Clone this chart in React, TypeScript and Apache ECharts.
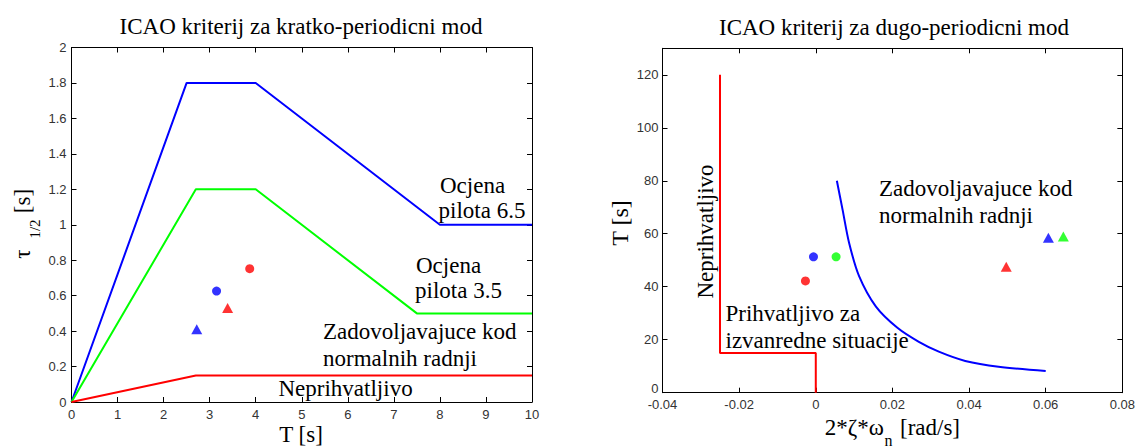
import React, { useEffect, useRef } from 'react';
import * as echarts from 'echarts';

// ---- Short-period criterion (left) ----
const shortBlue = [[0, 0], [2.5, 1.8], [4, 1.8], [8, 1.0], [10, 1.0]];
const shortGreen = [[0, 0], [2.7, 1.2], [4, 1.2], [7.5, 0.5], [10, 0.5]];
const shortRed = [[0, 0], [2.7, 0.15], [10, 0.15]];
const shortCircleRed = [[3.87, 0.752]];
const shortCircleBlue = [[3.15, 0.626]];
const shortTriRed = [[3.39, 0.53]];
const shortTriBlue = [[2.72, 0.41]];

// ---- Long-period (phugoid) criterion (right) ----
const longRed = [[-0.025, 120], [-0.025, 15], [0, 15], [0, 0]];
const longBlue = [
  [0.0055, 80], [0.007, 69], [0.0087, 56.5], [0.0113, 44], [0.0157, 32.5],
  [0.0213, 24.5], [0.0269, 19.2], [0.0321, 15.5], [0.039, 12], [0.0477, 9.8], [0.06, 8.2],
];
const longCircleRed = [[-0.0027, 42.2]];
const longCircleBlue = [[-0.0006, 51.3]];
const longCircleGreen = [[0.0053, 51.3]];
const longTriRed = [[0.0497, 47.5]];
const longTriBlue = [[0.0607, 58.5]];
const longTriGreen = [[0.0646, 59]];

const BLUE = '#0000ff';
const GREEN = '#00ff00';
const RED = '#ff0000';

const SERIF = '"Liberation Serif", "Times New Roman", serif';
const SANS = '"Liberation Sans", Arial, sans-serif';

function axis(gridIndex: number, position: string, min: number, max: number, interval: number, labels: boolean, margin: number, formatter?: any, rich?: any) {
  return {
    type: 'value',
    gridIndex,
    position,
    min,
    max,
    interval,
    axisLine: { show: true, onZero: false, lineStyle: { color: '#000', width: 1 } },
    axisTick: { show: true, inside: true, length: 5, lineStyle: { color: '#000', width: 1 } },
    axisLabel: {
      show: labels,
      color: '#333',
      fontSize: 13,
      fontFamily: SANS,
      margin,
      showMinLabel: true,
      showMaxLabel: true,
      formatter,
      rich,
    },
    splitLine: { show: false },
  };
}

function lineSeries(data: number[][], color: string, xi: number, yi: number, smooth = false) {
  return {
    type: 'line',
    data,
    xAxisIndex: xi,
    yAxisIndex: yi,
    showSymbol: false,
    symbol: 'none',
    smooth: smooth ? 0.3 : false,
    lineStyle: { color, width: 2 },
    silent: true,
  };
}

function markSeries(data: number[][], color: string, symbol: string, xi: number, yi: number) {
  return {
    type: 'scatter',
    data,
    xAxisIndex: xi,
    yAxisIndex: yi,
    symbol,
    symbolSize: symbol === 'triangle' ? [11, 10] : 9,
    itemStyle: { color },
    silent: true,
  };
}

function txt(text: string, x: number, y: number, size = 23, align = 'left', rotation = 0) {
  return {
    type: 'text',
    x,
    y,
    rotation,
    silent: true,
    style: {
      text,
      font: `${size}px ${SERIF}`,
      fill: '#000',
      align,
      verticalAlign: 'middle',
    },
  };
}

export default function App() {
  const ref = useRef<HTMLDivElement>(null);
  useEffect(() => {
    document.body.style.margin = '0';
    const chart = echarts.init(ref.current!, null, { renderer: 'svg' });
    const option = {
      animation: false,
      backgroundColor: '#fff',
      grid: [
        { left: 71.5, top: 47.5, width: 460.5, height: 354.5, containLabel: false },
        { left: 662.5, top: 48.3, width: 461.8, height: 344.4, containLabel: false },
      ],
      xAxis: [
        axis(0, 'bottom', 0, 10, 1, true, 6),
        axis(0, 'top', 0, 10, 1, false, 6),
        axis(1, 'bottom', -0.04, 0.08, 0.02, true, 5),
        axis(1, 'top', -0.04, 0.08, 0.02, false, 5),
      ],
      yAxis: [
        axis(0, 'left', 0, 2, 0.2, true, 5),
        axis(0, 'right', 0, 2, 0.2, false, 5),
        axis(1, 'left', 0, 130, 20, true, 4,
          (v: number) => (v > 120 ? '' : v === 0 ? '{z|0}' : String(v)),
          { z: { fontSize: 13, fontFamily: SANS, color: '#333', padding: [0, 0, 9, 0] } }),
        axis(1, 'right', 0, 130, 20, false, 4),
      ],
      series: [
        lineSeries(shortBlue, BLUE, 0, 0),
        lineSeries(shortGreen, GREEN, 0, 0),
        lineSeries(shortRed, RED, 0, 0),
        markSeries(shortCircleRed, RED, 'circle', 0, 0),
        markSeries(shortCircleBlue, BLUE, 'circle', 0, 0),
        markSeries(shortTriRed, RED, 'triangle', 0, 0),
        markSeries(shortTriBlue, BLUE, 'triangle', 0, 0),
        lineSeries(longRed, RED, 2, 2),
        lineSeries(longBlue, BLUE, 2, 2, true),
        markSeries(longCircleRed, RED, 'circle', 2, 2),
        markSeries(longCircleBlue, BLUE, 'circle', 2, 2),
        markSeries(longCircleGreen, GREEN, 'circle', 2, 2),
        markSeries(longTriRed, RED, 'triangle', 2, 2),
        markSeries(longTriBlue, BLUE, 'triangle', 2, 2),
        markSeries(longTriGreen, GREEN, 'triangle', 2, 2),
      ],
      graphic: [
        // titles
        txt('ICAO kriterij za kratko-periodicni mod', 301, 26, 23, 'center'),
        txt('ICAO kriterij za dugo-periodicni mod', 894, 27, 23, 'center'),
        // left annotations
        txt('Ocjena', 440, 185),
        txt('pilota 6.5', 438.5, 210),
        txt('Ocjena', 416, 265),
        txt('pilota 3.5', 415, 290.5),
        txt('Zadovoljavajuce kod', 323, 331.5),
        txt('normalnih radnji', 323, 358),
        txt('Neprihvatljivo', 278.5, 388),
        // right annotations
        txt('Neprihvatljivo', 705, 231.5, 23, 'center', Math.PI / 2),
        txt('Prihvatljivo za', 725.5, 313),
        txt('izvanredne situacije', 725.5, 340),
        txt('Zadovoljavajuce kod', 879, 188),
        txt('normalnih radnji', 879, 215),
        // left axis names
        txt('T [s]', 301, 434.5, 23, 'center'),
        txt('τ', 22, 254, 23, 'center', Math.PI / 2),
        txt('1/2', 35, 229, 15, 'center', Math.PI / 2),
        txt('[s]', 22, 201, 23, 'center', Math.PI / 2),
        // right axis names
        txt('T [s]', 620, 223, 24, 'center', Math.PI / 2),
        txt('2*ζ*ω', 884, 427, 23, 'right'),
        txt('n', 884.5, 440, 16, 'left'),
        txt('[rad/s]', 900, 427, 23, 'left'),
      ],
    };
    chart.setOption(option as any);
    return () => chart.dispose();
  }, []);
  return <div ref={ref} style={{ width: 1138, height: 447 }} />;
}
